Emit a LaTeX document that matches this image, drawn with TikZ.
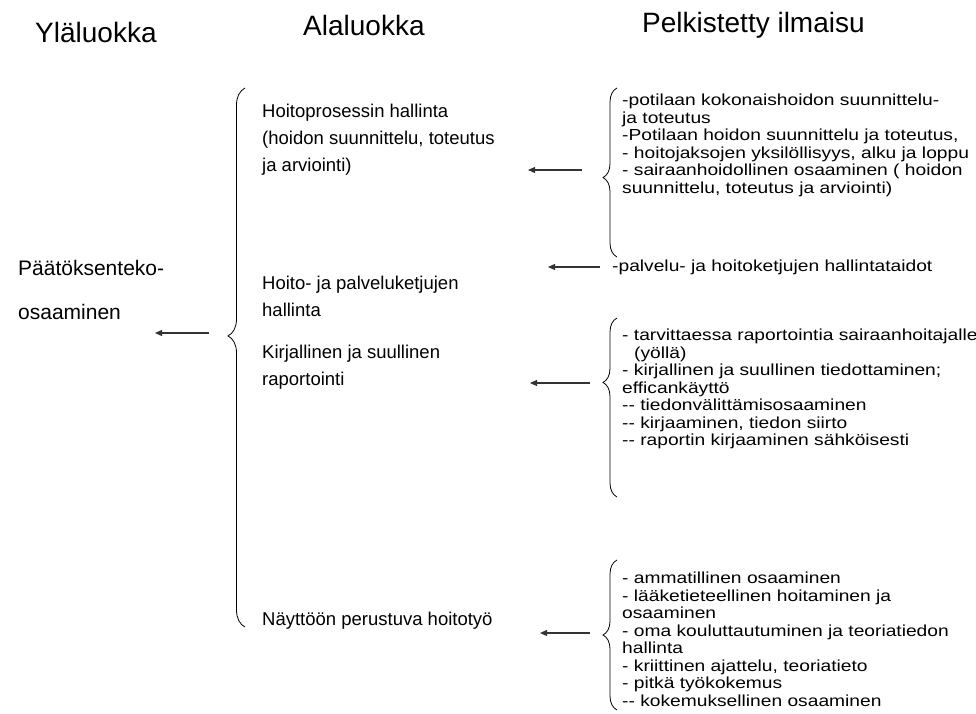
\documentclass[tikz,border=0pt]{standalone}
\usepackage{fontspec}
\setmainfont{Liberation Sans}
\newfontfamily\smallfont[FakeStretch=1.2]{Liberation Sans}
\usetikzlibrary{decorations.pathreplacing,arrows.meta}
\begin{document}
\begin{tikzpicture}[x=1pt,y=-1pt,
  hdr/.style={font=\fontsize{28}{32}\selectfont, inner sep=0pt, anchor=west},
  lft/.style={font=\fontsize{21}{44}\selectfont, inner sep=0pt, anchor=north west, align=left},
  mid/.style={font=\fontsize{18.5}{27}\selectfont, inner sep=0pt, anchor=north west, align=left},
  sml/.style={font=\smallfont\fontsize{16}{17.5}\selectfont, inner sep=0pt, anchor=north west, align=left},
  arr/.style={-{Triangle[length=7pt,width=6pt]}, line width=1.2pt, draw=black!80},
  brc/.style 2 args={decorate, decoration={brace, amplitude=#1, aspect=#2}, line width=0.8pt},
]
\useasboundingbox (0,0) rectangle (976,713);

% headers
\node[hdr] (h1) at (35,32) {Yläluokka};
\node[hdr] (h2) at (303,25) {Alaluokka};
\node[hdr] (h3) at (642,25) {Pelkistetty ilmaisu};

% upper category
\node[lft] (top) at (18,260) {Päätöksenteko-\\osaaminen};

% big brace
\coordinate (bb1) at (245,627);
\coordinate (bb2) at (245,88);
\draw[brc={17}{0.54}] (bb1) -- (bb2);
\coordinate (a0s) at (209,333);
\coordinate (a0e) at (155,333);
\draw[arr] (a0s) -- (a0e);

% subcategories
\node[mid] (m1) at (262,104) {Hoitoprosessin hallinta\\(hoidon suunnittelu, toteutus\\ja arviointi)};
\node[mid] (m2) at (262,276) {Hoito- ja palveluketjujen\\hallinta};
\node[mid] (m3) at (262,345) {Kirjallinen ja suullinen\\raportointi};
\node[mid] (m4) at (262,612) {Näyttöön perustuva hoitotyö};

% simplified expressions
\node[sml] (s1) at (622,94) {-potilaan kokonaishoidon suunnittelu-\\ja toteutus\\-Potilaan hoidon suunnittelu ja toteutus,\\- hoitojaksojen yksilöllisyys, alku ja loppu\\- sairaanhoidollinen osaaminen ( hoidon\\suunnittelu, toteutus ja arviointi)};
\node[sml, anchor=west] (s2) at (612,267) {-palvelu- ja hoitoketjujen hallintataidot};
\node[sml] (s3) at (622,329) {- tarvittaessa raportointia sairaanhoitajalle\\\hspace*{12pt}(yöllä)\\- kirjallinen ja suullinen tiedottaminen;\\efficankäyttö\\-\kern0pt- tiedonvälittämisosaaminen\\-\kern0pt- kirjaaminen, tiedon siirto\\-\kern0pt- raportin kirjaaminen sähköisesti};
\node[sml] (s4) at (622,572) {- ammatillinen osaaminen\\- lääketieteellinen hoitaminen ja\\osaaminen\\- oma kouluttautuminen ja teoriatiedon\\hallinta\\- kriittinen ajattelu, teoriatieto\\- pitkä työkokemus\\-\kern0pt- kokemuksellinen osaaminen};

% right braces
\coordinate (b1a) at (617,257);
\coordinate (b1b) at (617,88);
\draw[brc={14}{0.47}] (b1a) -- (b1b);
\coordinate (b2a) at (617,497);
\coordinate (b2b) at (617,318);
\draw[brc={14}{0.64}] (b2a) -- (b2b);
\coordinate (b3a) at (617,710);
\coordinate (b3b) at (617,560);
\draw[brc={14}{0.5}] (b3a) -- (b3b);

% arrows
\coordinate (a1s) at (582,170);
\coordinate (a1e) at (528,170);
\draw[arr] (a1s) -- (a1e);
\coordinate (a2s) at (600,267);
\coordinate (a2e) at (548,267);
\draw[arr] (a2s) -- (a2e);
\coordinate (a3s) at (590,383);
\coordinate (a3e) at (530,383);
\draw[arr] (a3s) -- (a3e);
\coordinate (a4s) at (590,633);
\coordinate (a4e) at (540,633);
\draw[arr] (a4s) -- (a4e);
\end{tikzpicture}
\end{document}
